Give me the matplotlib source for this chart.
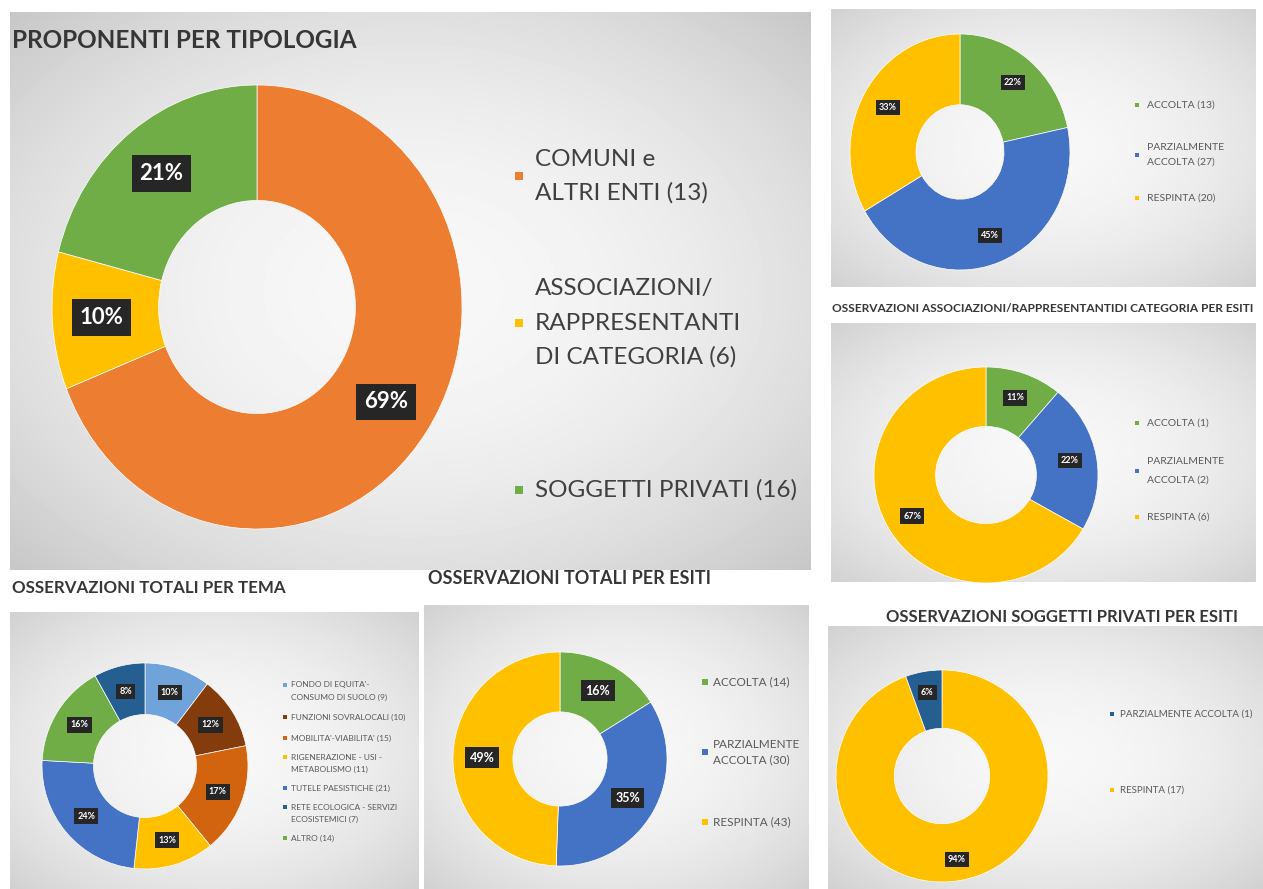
import numpy as np
import matplotlib.pyplot as plt

W, H = 1263, 889
plt.rcParams['font.family'] = ['Lato', 'DejaVu Sans']

# ---------------- data ----------------
main_categories = ['COMUNI e\nALTRI ENTI (13)',
                   'ASSOCIAZIONI/\nRAPPRESENTANTI\nDI CATEGORIA (6)',
                   'SOGGETTI PRIVATI (16)']
main_shares = [69, 10, 21]
main_labels = ['69%', '10%', '21%']

tema_categories = ["FONDO DI EQUITA'-\nCONSUMO DI SUOLO (9)",
                   'FUNZIONI SOVRALOCALI (10)',
                   "MOBILITA'-VIABILITA' (15)",
                   'RIGENERAZIONE - USI -\nMETABOLISMO (11)',
                   'TUTELE PAESISTICHE (21)',
                   'RETE ECOLOGICA - SERVIZI\nECOSISTEMICI (7)',
                   'ALTRO (14)']
tema_counts = [9, 10, 15, 11, 21, 7, 14]
tema_labels = ['10%', '12%', '17%', '13%', '24%', '8%', '16%']
tema_slice_order = [0, 1, 2, 3, 4, 6, 5]

esiti_tot_categories = ['ACCOLTA (14)', 'PARZIALMENTE\nACCOLTA (30)', 'RESPINTA (43)']
esiti_tot_counts = [14, 30, 43]
esiti_tot_labels = ['16%', '35%', '49%']

esiti_comuni_categories = ['ACCOLTA (13)', 'PARZIALMENTE\nACCOLTA (27)', 'RESPINTA (20)']
esiti_comuni_counts = [13, 27, 20]
esiti_comuni_labels = ['22%', '45%', '33%']

esiti_assoc_categories = ['ACCOLTA (1)', 'PARZIALMENTE\nACCOLTA (2)', 'RESPINTA (6)']
esiti_assoc_counts = [1, 2, 6]
esiti_assoc_labels = ['11%', '22%', '67%']

esiti_privati_categories = ['PARZIALMENTE ACCOLTA (1)', 'RESPINTA (17)']
esiti_privati_counts = [1, 17]
esiti_privati_labels = ['6%', '94%']
privati_slice_order = [1, 0]

# ---------------- style ----------------
ORANGE = '#ED7D31'
YELLOW = '#FFC000'
GREEN = '#70AD47'
BLUE = '#4472C4'
LIGHTBLUE = '#6FA3DA'
BROWN = '#843C0C'
DORANGE = '#D2640F'
DARKBLUE = '#255E91'

main_colors = [ORANGE, YELLOW, GREEN]
tema_colors = [LIGHTBLUE, BROWN, DORANGE, YELLOW, BLUE, DARKBLUE, GREEN]
esiti_colors = [GREEN, BLUE, YELLOW]
privati_colors = [DARKBLUE, YELLOW]

fig = plt.figure(figsize=(W / 100, H / 100), dpi=100)
fig.patch.set_facecolor('white')


def px_axes(x0, y0, x1, y1, **kw):
    return fig.add_axes([x0 / W, 1 - y1 / H, (x1 - x0) / W, (y1 - y0) / H], **kw)


def panel(x0, y0, x1, y1, lo=0.82, hi=0.97):
    ax = px_axes(x0, y0, x1, y1)
    yy, xx = np.mgrid[-1:1:120j, -1:1:120j]
    d = np.clip((xx ** 2 + yy ** 2) / 2.0, 0, 1)
    img = hi - (hi - lo) * d
    ax.imshow(img, cmap='gray', vmin=0, vmax=1, extent=(0, 1, 0, 1),
              aspect='auto', interpolation='bilinear')
    ax.axis('off')
    return ax


def donut(cx, cy, rx, ry, values, colors, labels, fs, width=0.5, pctdist=0.75):
    ax = px_axes(cx - rx, cy - ry, cx + rx, cy + ry)
    wedges, _, autotexts = ax.pie(values, colors=colors, startangle=90,
                                  counterclock=False, radius=1, autopct='%d',
                                  pctdistance=pctdist,
                                  wedgeprops=dict(width=width, edgecolor='white',
                                                  linewidth=0.5))
    ax.set_aspect('auto')
    ax.set_xlim(-1, 1)
    ax.set_ylim(-1, 1)
    ax.axis('off')
    for t, s in zip(autotexts, labels):
        t.set_text(s)
        t.set(color='white', fontsize=fs, fontweight='bold',
              bbox=dict(boxstyle='square,pad=0.35', fc='#262626', ec='none'))
    return ax


def pick(seq, order):
    return [seq[i] for i in order]


# panels
panel(10, 12, 811, 570, lo=0.78, hi=0.97)
panel(831, 9, 1256, 287)
panel(831, 323, 1256, 582)
panel(10, 612, 418, 889)
panel(424, 605, 809, 889)
panel(828, 626, 1263, 889)

# donuts
donut(257, 307, 205, 222, main_shares, main_colors, main_labels, 16,
      width=0.52, pctdist=0.76)
donut(145, 766, 103, 103, pick(tema_counts, tema_slice_order),
      pick(tema_colors, tema_slice_order),
      pick(tema_labels, tema_slice_order), 6.5, width=0.5, pctdist=0.75)
donut(560, 759, 107, 107, esiti_tot_counts, esiti_colors, esiti_tot_labels, 9,
      width=0.56, pctdist=0.73)
donut(960, 152, 110, 118, esiti_comuni_counts, esiti_colors, esiti_comuni_labels,
      6.5, width=0.6, pctdist=0.76)
donut(986, 475, 112, 108, esiti_assoc_counts, esiti_colors, esiti_assoc_labels,
      6.5, width=0.55, pctdist=0.76)
donut(942, 776, 106, 106, pick(esiti_privati_counts, privati_slice_order),
      pick(privati_colors, privati_slice_order),
      pick(esiti_privati_labels, privati_slice_order), 6.5, width=0.55,
      pctdist=0.8)

# overlay for titles and legends
ov = fig.add_axes([0, 0, 1, 1], zorder=10)
ov.set_xlim(0, W)
ov.set_ylim(H, 0)
ov.axis('off')
ov.patch.set_alpha(0)

TITLE = '#363636'
ov.text(12, 41, 'PROPONENTI PER TIPOLOGIA', fontsize=17.5, fontweight='bold',
        color=TITLE, va='center', ha='left')
ov.text(12, 588, 'OSSERVAZIONI TOTALI PER TEMA', fontsize=12.2, fontweight='bold',
        color=TITLE, va='center', ha='left')
ov.text(428, 578, 'OSSERVAZIONI TOTALI PER ESITI', fontsize=13, fontweight='bold',
        color=TITLE, va='center', ha='left')
ov.text(832, 308, 'OSSERVAZIONI ASSOCIAZIONI/RAPPRESENTANTIDI CATEGORIA PER ESITI',
        fontsize=8.6, fontweight='bold', color=TITLE, va='center', ha='left')
ov.text(886, 617, 'OSSERVAZIONI SOGGETTI PRIVATI PER ESITI', fontsize=12,
        fontweight='bold', color=TITLE, va='center', ha='left')


def legend(items, colors, xs, ys, xt, fs, msize, spacing, anchor='center',
           color='#595959'):
    for lab, c, y in zip(items, colors, ys):
        lines = lab.split('\n')
        n = len(lines)
        if anchor == 'center':
            y0 = y - (n - 1) * spacing / 2.0
        else:
            y0 = y
        ov.scatter([xs], [y], marker='s', s=msize, color=c, linewidths=0)
        for i, line in enumerate(lines):
            ov.text(xt, y0 + i * spacing, line, fontsize=fs, color=color,
                    va='center', ha='left')


legend(main_categories, main_colors, 519, [176, 323, 490], 535, 17.5, 40, 34,
       color='#404040')
legend(tema_categories, tema_colors, 285, [685, 717, 738, 757, 788, 807, 838],
       291, 6, 10, 12, anchor='first')
legend(esiti_tot_categories, esiti_colors, 705, [682, 752, 822], 713, 8.5, 22, 15)
legend(esiti_comuni_categories, esiti_colors, 1137, [105, 155, 198], 1147, 7.5,
       12, 15)
legend(esiti_assoc_categories, esiti_colors, 1137, [423, 471, 517], 1147, 7.5,
       12, 18)
legend(esiti_privati_categories, privati_colors, 1112, [714, 790], 1120, 7, 12, 15)

fig.savefig('out.png', dpi=100)
